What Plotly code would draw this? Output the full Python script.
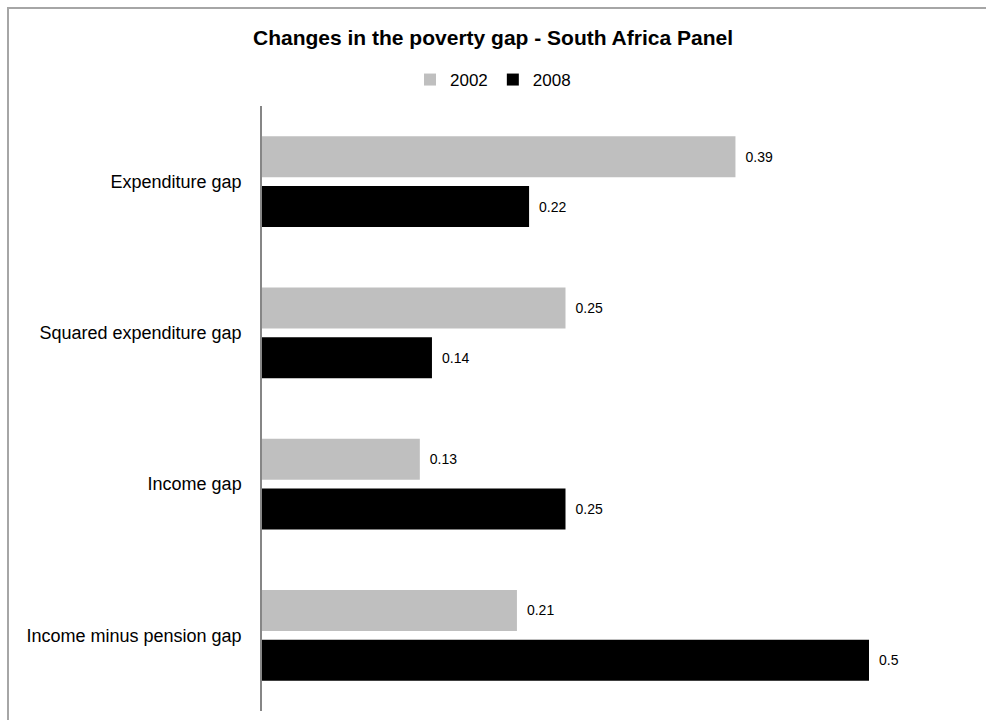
import plotly.graph_objects as go

categories = ["Expenditure gap", "Squared expenditure gap", "Income gap", "Income minus pension gap"]
values_2002 = [0.39, 0.25, 0.13, 0.21]
values_2008 = [0.22, 0.14, 0.25, 0.5]
series_names = ["2002", "2008"]
title_text = "Changes in the poverty gap - South Africa Panel"

FONT = "Liberation Sans"
W, H = 986, 720
L, R, T, B = 262, 20, 106, 9
pw = W - L - R
ph = H - T - B

fig = go.Figure()
for name, vals, col in [(series_names[0], values_2002, "#BFBFBF"), (series_names[1], values_2008, "#000000")]:
    fig.add_trace(go.Bar(
        name=name, y=categories, x=vals, orientation="h",
        marker=dict(color=col, line=dict(width=0)),
        text=["\u2002" + f"{v:g}" for v in vals], textposition="outside",
        textfont=dict(family=FONT, size=14, color="#000000"),
        cliponaxis=False,
    ))

fig.update_layout(
    width=W, height=H,
    margin=dict(l=L, r=R, t=T, b=B, autoexpand=False),
    paper_bgcolor="white", plot_bgcolor="white",
    barmode="group", bargap=0.34, bargroupgap=0.18,
    title=dict(text="<b>" + title_text + "</b>", x=0.5, xref="container", xanchor="center",
               y=1 - 38 / H, yref="container", yanchor="middle",
               font=dict(family=FONT, size=21, color="#000000")),
    legend=dict(orientation="h", x=0.5, xref="container", xanchor="center",
                y=1 - 80 / H, yref="container", yanchor="middle",
                font=dict(family=FONT, size=17, color="#000000"),
                itemsizing="constant", traceorder="normal", itemwidth=30),
    showlegend=True,
    uniformtext=dict(mode=False),
)
fig.update_xaxes(range=[0, pw / 1214.0], visible=False, showgrid=False, zeroline=False)
fig.update_yaxes(autorange="reversed", showline=True, linecolor="#868686", linewidth=1.5,
                 ticks="", ticklabelstandoff=15, showgrid=False, zeroline=False,
                 tickfont=dict(family=FONT, size=18, color="#000000"))

# outer chart border
x0 = (8 - L) / pw
y1 = (H - B - 8) / ph
fig.add_shape(type="rect", xref="paper", yref="paper", x0=x0, x1=1.2, y0=-0.2, y1=y1,
              line=dict(color="#A6A6A6", width=2), fillcolor="rgba(0,0,0,0)", layer="below")

fig.write_html("out.html")
